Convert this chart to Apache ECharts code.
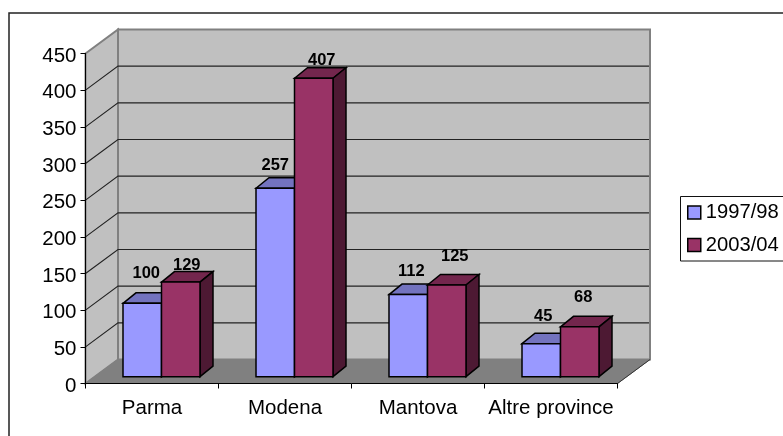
<!DOCTYPE html>
<html>
<head>
<meta charset="utf-8">
<style>html,body{margin:0;padding:0;background:#fff;overflow:hidden}#c{width:783px;height:436px}</style>
<script src="https://cdn.jsdelivr.net/npm/echarts@6/dist/echarts.min.js"></script>
</head>
<body>
<div id="c"></div>
<script>
var categories = ['Parma', 'Modena', 'Mantova', 'Altre province'];
var seriesNames = ['1997/98', '2003/04'];
var values9798 = [100, 257, 112, 45];
var values0304 = [129, 407, 125, 68];
var yTicks = [50, 100, 150, 200, 250, 300, 350, 400];

// label nudges relative to each bar's top centre
var labelNudge9798 = [[4, -30], [0, -23], [3, -23], [2, -27]];
var labelNudge0304 = [[6, -17], [8, -18], [8, -29], [3.5, -29]];

var FONT = '"Liberation Sans", Arial, sans-serif';
var DX = 32.5, DY = 24;          // wall depth
var BAR_DX = 13, BAR_DY = 10.5;  // bar depth
var FLOOR_GAP = 6.8;             // bar front stands this far behind the front edge
var BAR_W = 38.5 / 133;

function wallItem(params, api) {
  var c = params.coordSys;
  var x0 = c.x, x1 = c.x + c.width, y0 = c.y, y1 = c.y + c.height;
  var y = api.coord([0, api.value(1)])[1];
  var children = [];
  if (params.dataIndex === 0) {
    children.push(
      { type: 'polygon', shape: { points: [[x0 + DX, y0 - DY], [x1 + DX, y0 - DY], [x1 + DX, y1 - DY], [x0 + DX, y1 - DY]] },
        style: { fill: '#C0C0C0', stroke: '#808080', lineWidth: 2 } },
      { type: 'polygon', shape: { points: [[x0, y0], [x0 + DX, y0 - DY], [x0 + DX, y1 - DY], [x0, y1]] },
        style: { fill: '#C0C0C0', stroke: '#808080', lineWidth: 2 } },
      { type: 'polygon', shape: { points: [[x0, y1], [x1, y1], [x1 + DX, y1 - DY], [x0 + DX, y1 - DY]] },
        style: { fill: '#808080', stroke: '#808080', lineWidth: 1 } },
      { type: 'line', shape: { x1: x1, y1: y1, x2: x1 + DX, y2: y1 - DY },
        style: { stroke: '#333', lineWidth: 1 } }
    );
  }
  children.push({ type: 'polyline', shape: { points: [[x0, y], [x0 + DX, y - DY], [x1 + DX - 1, y - DY]] },
    style: { fill: null, stroke: '#222', lineWidth: 1.1 } });
  return { type: 'group', children: children };
}

function barRenderer(seriesIdx, front, top, side, nudges) {
  return function (params, api) {
    var cat = api.value(0), val = api.value(1);
    var base = api.coord([cat, 0]), head = api.coord([cat, val]);
    var band = api.size([1, 0])[0];
    var w = band * BAR_W;
    var left = base[0] - band * 29 / 133 + seriesIdx * w;
    var right = left + w;
    var yb = base[1] - FLOOR_GAP, yt = head[1] - FLOOR_GAP;
    var ln = { stroke: '#000', lineWidth: 1.5, lineJoin: 'miter' };
    var n = nudges[params.dataIndex];
    return { type: 'group', children: [
      { type: 'polygon', shape: { points: [[left, yt], [left + BAR_DX, yt - BAR_DY], [right + BAR_DX, yt - BAR_DY], [right, yt]] },
        style: Object.assign({ fill: top }, ln) },
      { type: 'polygon', shape: { points: [[right, yt], [right + BAR_DX, yt - BAR_DY], [right + BAR_DX, yb - BAR_DY], [right, yb]] },
        style: Object.assign({ fill: side }, ln) },
      { type: 'rect', shape: { x: left, y: yt, width: w, height: yb - yt },
        style: Object.assign({ fill: front }, ln) },
      { type: 'text', z2: 50, style: { x: (left + right) / 2 + n[0], y: yt + n[1], text: String(val), fill: '#000',
        font: 'bold 16.5px ' + FONT, align: 'center', verticalAlign: 'middle' } }
    ] };
  };
}

var chart = echarts.init(document.getElementById('c'), null, { renderer: 'canvas' });
chart.setOption({
  animation: false,
  backgroundColor: '#fff',
  textStyle: { fontFamily: FONT },
  graphic: [{ type: 'rect', silent: true, z: 0, shape: { x: 9, y: 13, width: 900, height: 600 },
    style: { fill: null, stroke: '#222', lineWidth: 1.5 } }],
  grid: { left: 85.5, top: 53.5, width: 532, height: 330 },
  legend: {
    data: seriesNames, orient: 'vertical', left: 680.5, top: 196.5,
    padding: [6, 5, 6, 6.5], itemGap: 12.5, itemWidth: 13, itemHeight: 13,
    icon: 'rect', borderColor: '#111', borderWidth: 1, backgroundColor: '#fff',
    textStyle: { fontSize: 20.2, color: '#000', fontFamily: FONT, lineHeight: 18 },
    itemStyle: { borderColor: '#000', borderWidth: 1.5 }
  },
  xAxis: { type: 'category', data: categories, z: 5,
    axisLine: { lineStyle: { color: '#000', width: 1 } },
    axisTick: { show: true, length: 5, alignWithLabel: false, lineStyle: { color: '#000' } },
    axisLabel: { interval: 0, fontSize: 20.5, color: '#000', margin: 14, fontFamily: FONT },
    splitLine: { show: false } },
  yAxis: { type: 'value', min: 0, max: 450, interval: 50, z: 5,
    axisLine: { show: true, lineStyle: { color: '#000', width: 1 } },
    axisTick: { show: true, length: 5, lineStyle: { color: '#000' } },
    axisLabel: { fontSize: 20.5, color: '#000', margin: 9, fontFamily: FONT, verticalAlign: 'top', lineHeight: 5 },
    splitLine: { show: false } },
  series: [
    { type: 'custom', name: 'walls', z: 1, silent: true, clip: false, renderItem: wallItem,
      data: yTicks.map(function (v) { return [0, v]; }), encode: { x: 0, y: 1 } },
    { type: 'custom', name: seriesNames[0], z: 2, clip: false, itemStyle: { color: '#9999FF' },
      renderItem: barRenderer(0, '#9999FF', '#7373BF', '#4D4D80', labelNudge9798),
      data: values9798.map(function (v, i) { return [i, v]; }), encode: { x: 0, y: 1 } },
    { type: 'custom', name: seriesNames[1], z: 3, clip: false, itemStyle: { color: '#993366' },
      renderItem: barRenderer(1, '#993366', '#73264D', '#4D1933', labelNudge0304),
      data: values0304.map(function (v, i) { return [i, v]; }), encode: { x: 0, y: 1 } }
  ]
});
</script>
</body>
</html>
